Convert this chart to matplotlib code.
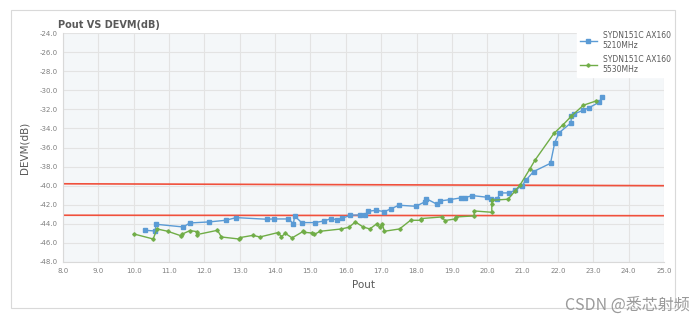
import matplotlib
matplotlib.use("Agg")
import matplotlib.pyplot as plt
import matplotlib.patches as pth

# blue series: SYDN151C AX160 5210MHz
pout_5210 = [10.32, 10.60, 10.64, 11.40, 11.59, 12.14, 12.60, 12.90, 13.76, 13.96,
             14.37, 14.52, 14.55, 14.75, 15.12, 15.39, 15.58, 15.76, 15.90, 16.12,
             16.41, 16.54, 16.64, 16.86, 17.09, 17.27, 17.50, 17.98, 18.23, 18.27,
             18.58, 18.67, 18.95, 19.25, 19.37, 19.58, 19.99, 20.12, 20.28, 20.37,
             20.62, 20.78, 20.98, 21.11, 21.31, 21.79, 21.91, 22.04, 22.37, 22.38,
             22.46, 22.72, 22.89, 23.17, 23.24]
devm_5210 = [-44.68, -44.75, -44.05, -44.33, -43.91, -43.80, -43.63, -43.35, -43.52, -43.49,
             -43.49, -43.98, -43.17, -43.87, -43.87, -43.70, -43.45, -43.59, -43.42, -43.10,
             -43.07, -43.07, -42.68, -42.58, -42.72, -42.44, -42.05, -42.16, -41.71, -41.35,
             -41.95, -41.60, -41.46, -41.28, -41.25, -41.04, -41.21, -41.39, -41.42, -40.76,
             -40.76, -40.48, -40.03, -39.36, -38.52, -37.65, -35.48, -34.43, -33.41, -32.64,
             -32.47, -32.08, -31.80, -31.24, -30.72]

# green series: SYDN151C AX160 5530MHz
pout_5530 = [10.00, 10.55, 10.66, 10.96, 11.35, 11.36, 11.59, 11.79, 11.79, 12.37,
             12.48, 12.97, 13.00, 13.37, 13.57, 14.08, 14.18, 14.29, 14.48, 14.80,
             14.83, 15.03, 15.11, 15.28, 15.87, 16.09, 16.27, 16.49, 16.68, 16.88,
             16.96, 17.03, 17.09, 17.52, 17.83, 18.12, 18.12, 18.72, 18.80, 19.09,
             19.12, 19.63, 19.63, 20.13, 20.13, 20.13, 20.59, 20.78, 20.93, 21.20,
             21.35, 21.89, 22.15, 22.38, 22.72, 23.09]
devm_5530 = [-45.06, -45.59, -44.54, -44.78, -45.27, -45.10, -44.71, -44.82, -45.13, -44.68,
             -45.38, -45.59, -45.45, -45.21, -45.38, -44.92, -45.34, -45.00, -45.48, -44.78,
             -44.89, -44.96, -45.10, -44.78, -44.54, -44.36, -43.80, -44.33, -44.54, -43.98,
             -44.36, -43.98, -44.78, -44.54, -43.63, -43.63, -43.45, -43.28, -43.66, -43.49,
             -43.28, -43.17, -42.65, -42.79, -41.95, -41.53, -41.42, -40.59, -39.92, -38.28,
             -37.33, -34.50, -33.59, -32.71, -31.56, -31.10]

# red limit lines (start value, end value)
limit_x = [8.0, 25.0]
limit_hi = [-39.8, -40.0]
limit_lo = [-43.1, -43.15]

labels = ["SYDN151C AX160\n5210MHz", "SYDN151C AX160\n5530MHz"]

fig = plt.figure(figsize=(6.96, 3.25), dpi=100)
ax = fig.add_axes([0.0905, 0.194, 0.8635, 0.704])
ax.set_facecolor("#f4f7f9")

fig.patches.append(pth.Rectangle((11 / 696, 1 - 308 / 325), 664 / 696, 298 / 325,
                                 transform=fig.transFigure, fill=False,
                                 edgecolor="#d9d9d9", linewidth=0.8))

ax.plot(limit_x, limit_hi, color="#f0503c", linewidth=1.2, zorder=2)
ax.plot(limit_x, limit_lo, color="#f0503c", linewidth=1.2, zorder=2)

ax.plot(pout_5210, devm_5210, color="#5b9bd5", linewidth=1, marker="s",
        markersize=2.2, label=labels[0], zorder=3)
ax.plot(pout_5530, devm_5530, color="#70ad47", linewidth=1, marker="P",
        markersize=2.2, label=labels[1], zorder=3)

ax.set_xlim(8, 25)
ax.set_ylim(-48, -24)
ax.set_xticks([8 + i for i in range(18)])
ax.set_yticks([-48 + 2 * i for i in range(13)])
ax.set_xticklabels([f"{8 + i:.1f}" for i in range(18)])
ax.set_yticklabels([f"{-48 + 2 * i:.1f}" for i in range(13)])
ax.tick_params(labelsize=5, colors="#7f7f7f", length=0, pad=4)
ax.grid(True, color="#e3e3e3", linewidth=0.8)
ax.set_axisbelow(True)
for s in ax.spines.values():
    s.set_visible(False)
ax.spines["left"].set_visible(True)
ax.spines["left"].set_color("#d9d9d9")
ax.spines["bottom"].set_visible(True)
ax.spines["bottom"].set_color("#d9d9d9")

ax.set_xlabel("Pout", fontsize=7.5, color="#595959", labelpad=5)
ax.set_ylabel("DEVM(dB)", fontsize=7.5, color="#595959", labelpad=7)
fig.text(58 / 696, 1 - 25 / 325, "Pout VS DEVM(dB)", fontsize=7, fontweight="bold",
         color="#595959", va="center")

leg = ax.legend(loc="upper left", bbox_to_anchor=(573 / 696, 1 - 24 / 325),
                bbox_transform=fig.transFigure, fontsize=5.5, frameon=True,
                fancybox=False, edgecolor="white", framealpha=1, handlelength=2.2,
                labelspacing=0.6, borderpad=0.4)
for t in leg.get_texts():
    t.set_color("#595959")

fig.text(690 / 696, 1 - 305 / 325, "CSDN @悉芯射频", fontsize=11.5, color="#9a9a9a",
         ha="right", va="center", family=["Noto Sans CJK SC", "DejaVu Sans"])

fig.savefig("out.png", dpi=100)
